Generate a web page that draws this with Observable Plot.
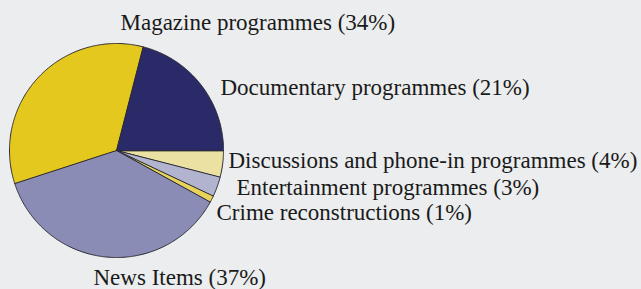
<!DOCTYPE html>
<html>
<head>
<meta charset="utf-8">
<script src="https://cdn.jsdelivr.net/npm/d3@7"></script>
<script src="https://cdn.jsdelivr.net/npm/@observablehq/plot@0.6"></script>
<style>
  html, body { margin: 0; padding: 0; background: #ebedee; }
  #chart { width: 641px; height: 289px; }
  svg { display: block; }
</style>
</head>
<body>
<div id="chart"></div>
<script>
// Data (clockwise from 3 o'clock)
const categories = [
  "Discussions and phone-in programmes",
  "Entertainment programmes",
  "Crime reconstructions",
  "News Items",
  "Magazine programmes",
  "Documentary programmes"
];
const shares = [4, 3, 1, 37, 34, 21];
const colors = ["#ebe1a2", "#b2b4cf", "#e8d35a", "#8a8cb5", "#e4c81e", "#2a2a68"];

const W = 641, H = 289;
const cx = 116, cy = 150, R = 107;

// Build slice polygons from shares
const total = d3.sum(shares);
let start = Math.PI / 2; // bearing clockwise from north: start at 3 o'clock
const pts = [];
categories.forEach((c, i) => {
  const sweep = shares[i] / total * 2 * Math.PI;
  const n = Math.max(4, Math.ceil(sweep / 0.01));
  pts.push({cat: c, x: 0, y: 0});
  for (let k = 0; k <= n; k++) {
    const a = start + sweep * k / n;
    pts.push({cat: c, x: Math.sin(a), y: Math.cos(a)});
  }
  start += sweep;
});

// Label layout (pixel positions, kept out of the data)
const labelLayout = [
  {px: 228, py: 160},
  {px: 236, py: 187},
  {px: 216, py: 212},
  {px: 93, py: 277},
  {px: 120, py: 22},
  {px: 220, py: 87}
];
const labels = categories.map((c, i) => ({
  text: c + " (" + shares[i] + "%)",
  x: (labelLayout[i].px - cx) / R,
  y: (cy - labelLayout[i].py) / R
}));

const plot = Plot.plot({
  width: W, height: H,
  margin: 0,
  style: {background: "transparent", fontFamily: "'Liberation Serif', 'DejaVu Serif', serif"},
  x: {domain: [-cx / R, (W - cx) / R], axis: null},
  y: {domain: [-(H - cy) / R, cy / R], axis: null},
  color: {domain: categories, range: colors},
  marks: [
    Plot.line(pts, {x: "x", y: "y", z: "cat", fill: "cat", stroke: "#2b2b33", strokeWidth: 1, curve: "linear-closed"}),
    Plot.text(labels, {x: "x", y: "y", text: "text", textAnchor: "start", fill: "#1a1a1a", fontSize: 23})
  ]
});
document.getElementById("chart").append(plot);
</script>
</body>
</html>
